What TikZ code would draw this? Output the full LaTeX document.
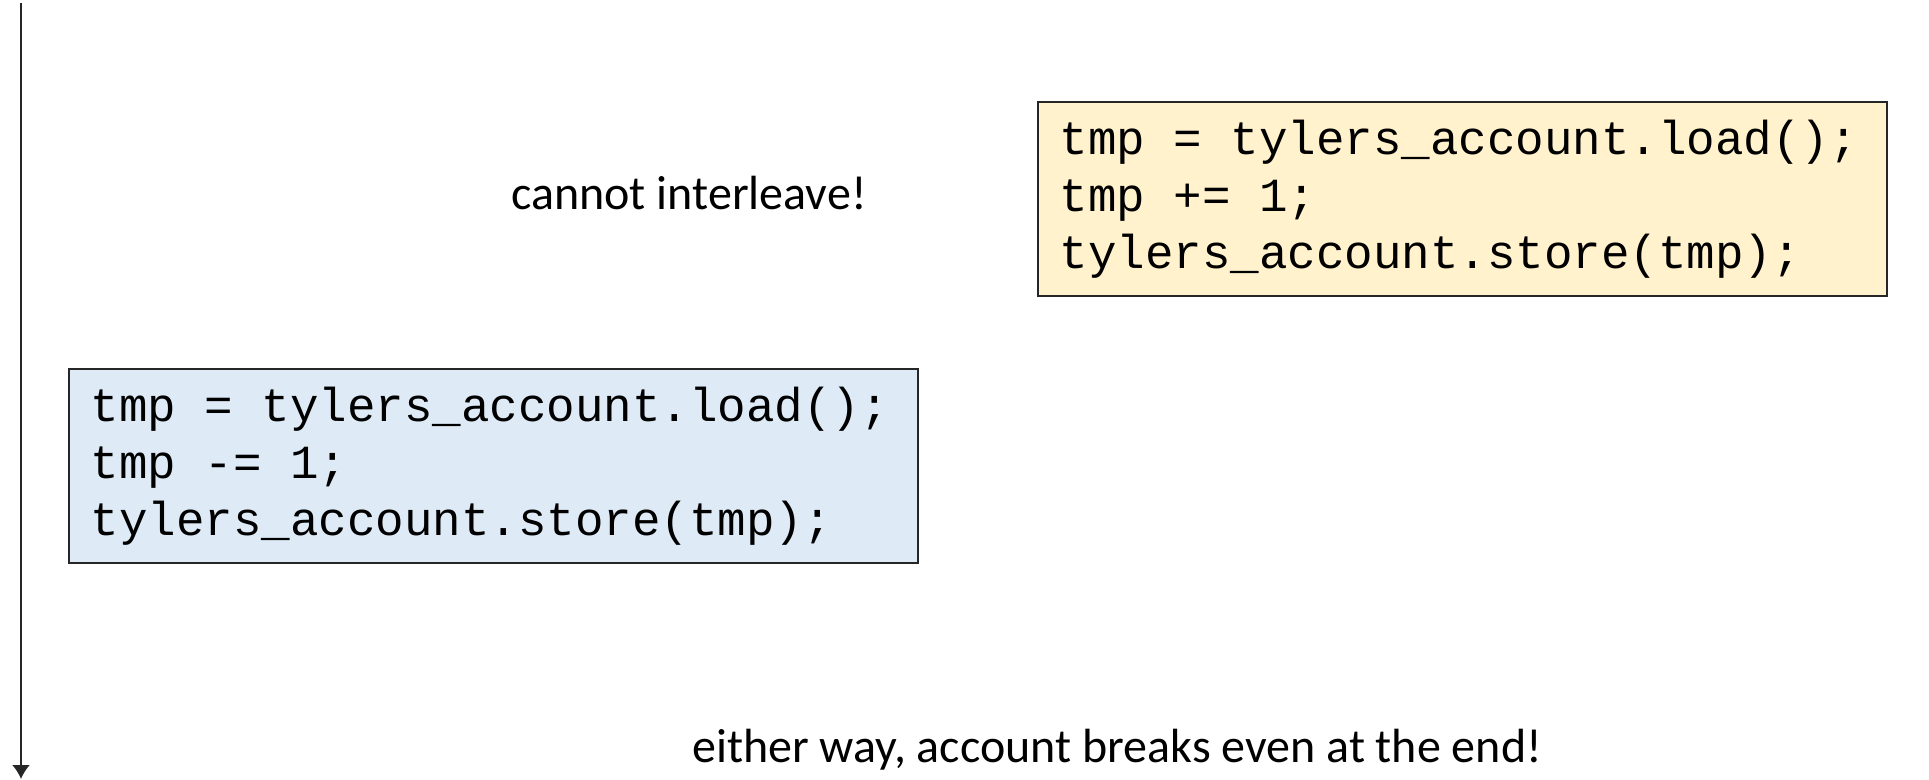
\documentclass[tikz,border=0pt]{standalone}
\usepackage{fontspec}
\setmainfont{Carlito}
\newfontfamily\codefont{Liberation Mono}
\usetikzlibrary{arrows.meta}
\definecolor{yfill}{HTML}{FFF2CC}
\definecolor{bfill}{HTML}{DEEBF7}
\definecolor{edge}{HTML}{262626}
\newcommand{\csp}{\hbox to 0.6em{}}
\tikzset{
  codebox/.style={draw=edge, line width=1.5pt, anchor=north west, align=left,
    minimum width=849pt, minimum height=194pt, inner xsep=22pt, text width=805pt,
    font=\codefont\fontsize{47.5}{57}\selectfont},
  caption/.style={font=\fontsize{48}{58}\selectfont, inner sep=0pt},
  timeline/.style={draw=edge, line width=2pt, -{Latex[length=14pt,width=18pt]}}
}
\begin{document}
\begin{tikzpicture}[x=1pt,y=-1pt]
\useasboundingbox (0,0) rectangle (1929,779);
\coordinate (ttop) at (21,3);
\coordinate (tbot) at (21,779);
\draw[timeline] (ttop) -- (tbot);
\node[codebox, fill=yfill] (inc) at (1037,101) {tmp\csp=\csp tylers\_account.load();\\tmp\csp+=\csp1;\\tylers\_account.store(tmp);};
\node[codebox, fill=bfill] (dec) at (68,368) {tmp\csp=\csp tylers\_account.load();\\tmp\csp-=\csp1;\\tylers\_account.store(tmp);};
\node[caption] (ci) at (689,193) {cannot interleave!};
\node[caption] (ew) at (1117,750) {either way, account breaks even at the end!};
\end{tikzpicture}
\end{document}
